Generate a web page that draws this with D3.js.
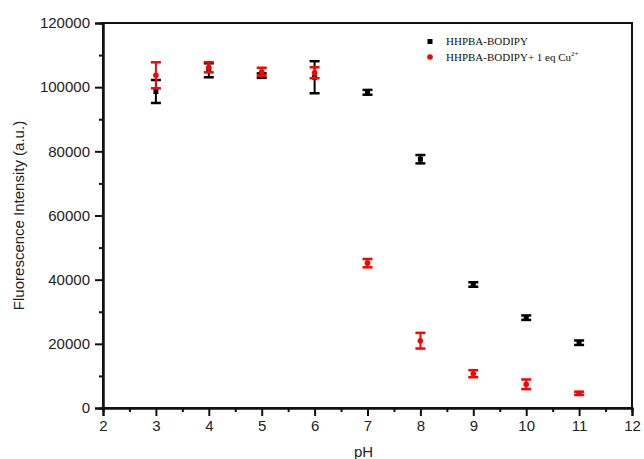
<!DOCTYPE html>
<html>
<head>
<meta charset="utf-8">
<script src="https://cdn.jsdelivr.net/npm/d3@7"></script>
<style>
  html, body { margin: 0; padding: 0; background: #fff; }
  svg { display: block; }
</style>
</head>
<body>
<svg id="chart" width="644" height="459"></svg>
<script>
// pH titration of HHPBA-BODIPY, with and without 1 eq Cu2+
const phValues = [3, 4, 5, 6, 7, 8, 9, 10, 11];
const probeMean = [98650, 105260, 103600, 103100, 98400, 77550, 38500, 28150, 20350];
const probeErr  = [3580, 2180, 700, 5000, 750, 1300, 700, 700, 700];
const cuMean    = [103700, 106200, 104800, 104500, 45150, 20980, 10690, 7390, 4580];
const cuErr     = [4050, 1560, 1250, 1700, 1300, 2450, 1100, 1500, 500];
const xTicks = [2, 3, 4, 5, 6, 7, 8, 9, 10, 11, 12];
const yTicks = [0, 20000, 40000, 60000, 80000, 100000, 120000];
const seriesNames = ["HHPBA-BODIPY", "HHPBA-BODIPY+ 1 eq Cu"];

const svg = d3.select("#chart");
const margin = { left: 103, right: 12, top: 23, bottom: 51 };
const W = 644, H = 459;

const x = d3.scaleLinear().domain([2, 12]).range([margin.left, W - margin.right]);
const y = d3.scaleLinear().domain([0, 120000]).range([H - margin.bottom, margin.top]);

const tickFont = "'Liberation Sans', Arial, sans-serif";

// frame
svg.append("rect")
  .attr("x", x(2)).attr("y", y(120000))
  .attr("width", x(12) - x(2)).attr("height", y(0) - y(120000))
  .attr("fill", "none").attr("stroke", "#111").attr("stroke-width", 2);

// minor ticks
const xAxisMinor = d3.axisBottom(x).tickValues(d3.range(2.5, 12, 1)).tickSize(4).tickFormat("");
const yAxisMinor = d3.axisLeft(y).tickValues(d3.range(10000, 120000, 20000)).tickSize(4).tickFormat("");
svg.append("g").attr("transform", `translate(0,${y(0)})`).call(xAxisMinor);
svg.append("g").attr("transform", `translate(${x(2)},0)`).call(yAxisMinor);

// major axes
const gx = svg.append("g").attr("transform", `translate(0,${y(0)})`)
  .call(d3.axisBottom(x).tickValues(xTicks).tickSize(8).tickPadding(4).tickFormat(d3.format("d")));
const gy = svg.append("g").attr("transform", `translate(${x(2)},0)`)
  .call(d3.axisLeft(y).tickValues(yTicks).tickSize(8).tickPadding(5).tickFormat(d3.format("d")));

svg.selectAll(".domain").attr("stroke", "#111").attr("stroke-width", 2);
svg.selectAll(".tick line").attr("stroke", "#111").attr("stroke-width", 2);
svg.selectAll(".tick text").attr("font-family", tickFont).attr("font-size", 15).attr("fill", "#222");

// axis titles
svg.append("text")
  .attr("x", (x(2) + x(12)) / 2 - 4).attr("y", 457)
  .attr("text-anchor", "middle")
  .attr("font-family", tickFont).attr("font-size", 15).attr("fill", "#222")
  .text("pH");
svg.append("text")
  .attr("transform", `translate(24,${(y(0) + y(120000)) / 2}) rotate(-90)`)
  .attr("text-anchor", "middle")
  .attr("font-family", tickFont).attr("font-size", 15).attr("fill", "#222")
  .text("Fluorescence Intensity (a.u.)");

// error bars + markers
function drawSeries(means, errs, color, marker) {
  const g = svg.append("g");
  const data = phValues.map((p, i) => ({ p, m: means[i], e: errs[i] }));
  const cap = 5;
  const bars = g.selectAll("g.bar").data(data).join("g").attr("class", "bar");
  bars.append("line")
    .attr("x1", d => x(d.p)).attr("x2", d => x(d.p))
    .attr("y1", d => y(d.m + d.e)).attr("y2", d => y(d.m - d.e))
    .attr("stroke", color).attr("stroke-width", 2);
  bars.append("line")
    .attr("x1", d => x(d.p) - cap).attr("x2", d => x(d.p) + cap)
    .attr("y1", d => y(d.m + d.e)).attr("y2", d => y(d.m + d.e))
    .attr("stroke", color).attr("stroke-width", 2.5);
  bars.append("line")
    .attr("x1", d => x(d.p) - cap).attr("x2", d => x(d.p) + cap)
    .attr("y1", d => y(d.m - d.e)).attr("y2", d => y(d.m - d.e))
    .attr("stroke", color).attr("stroke-width", 2.5);
  if (marker === "square") {
    bars.append("rect")
      .attr("x", d => x(d.p) - 2.5).attr("y", d => y(d.m) - 2.5)
      .attr("width", 5).attr("height", 5).attr("fill", color);
  } else {
    bars.append("circle")
      .attr("cx", d => x(d.p)).attr("cy", d => y(d.m)).attr("r", 2.8).attr("fill", color);
  }
}
drawSeries(probeMean, probeErr, "#000", "square");
drawSeries(cuMean, cuErr, "#f00", "circle");

// legend
const legendFont = "'Liberation Serif', 'Times New Roman', serif";
const lg = svg.append("g");
lg.append("rect").attr("x", 427.5).attr("y", 39).attr("width", 5).attr("height", 5).attr("fill", "#000");
lg.append("circle").attr("cx", 430).attr("cy", 57).attr("r", 2.8).attr("fill", "#f00");
lg.append("text").attr("x", 446).attr("y", 45)
  .attr("font-family", legendFont).attr("font-size", 11).attr("fill", "#111")
  .text(seriesNames[0]);
const t2 = lg.append("text").attr("x", 446).attr("y", 61)
  .attr("font-family", legendFont).attr("font-size", 11).attr("fill", "#111");
t2.append("tspan").text(seriesNames[1]);
t2.append("tspan").attr("font-size", 7).attr("dy", -5).text("2+");
</script>
</body>
</html>
